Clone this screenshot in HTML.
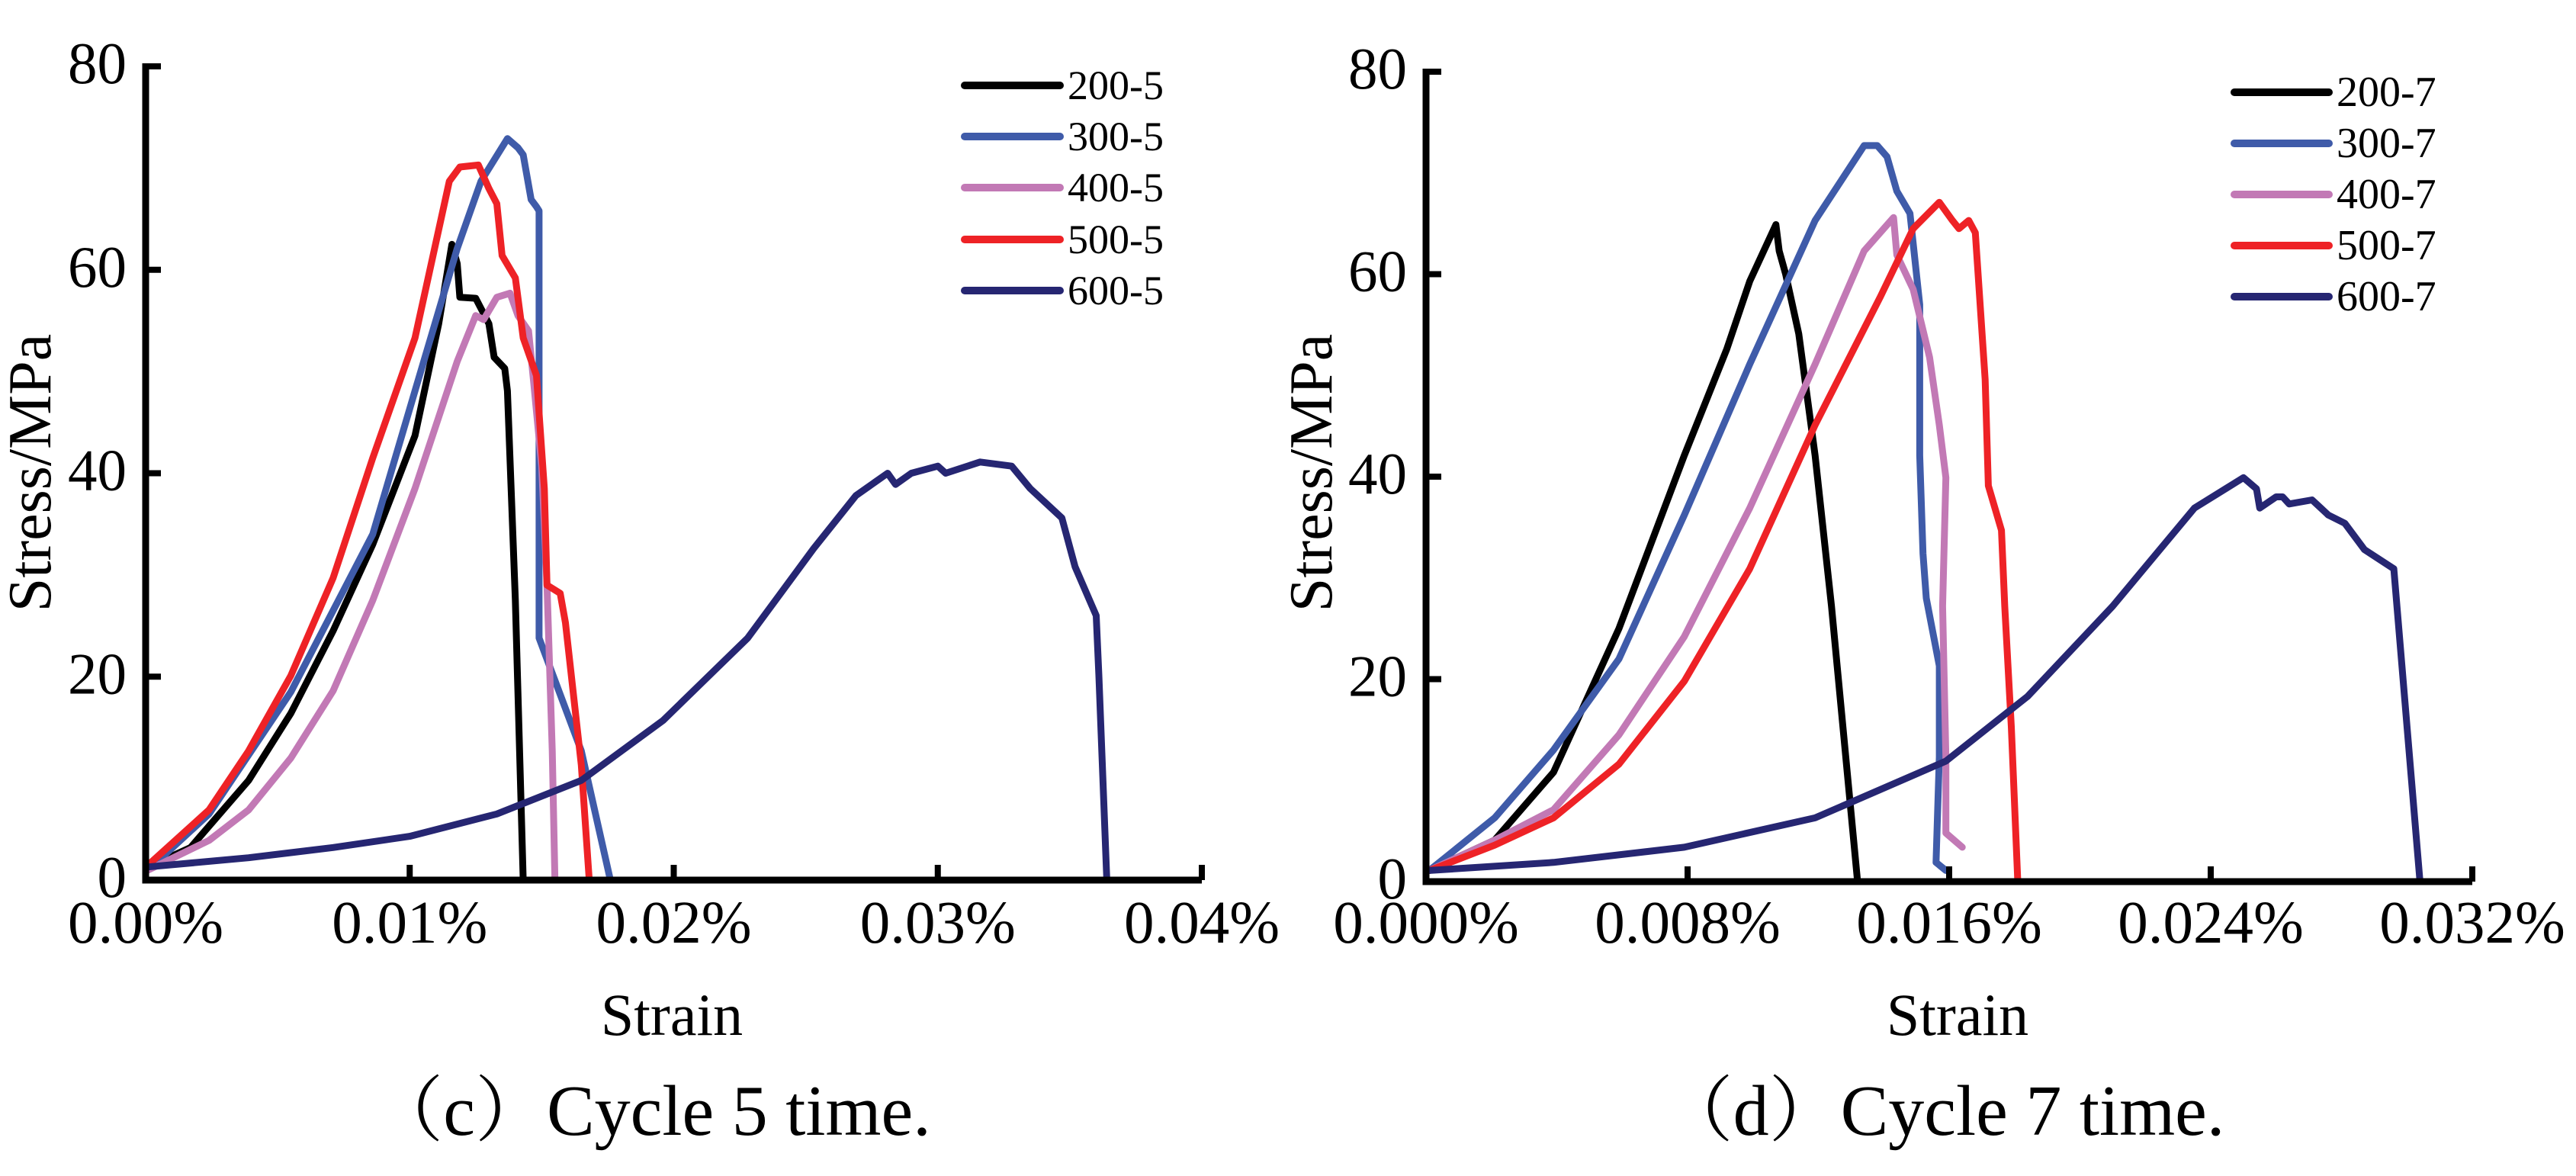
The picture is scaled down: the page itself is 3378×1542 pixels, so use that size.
<!DOCTYPE html>
<html><head><meta charset="utf-8">
<style>
html,body{margin:0;padding:0;background:#fff;}
svg{display:block;}
svg text{font-family:"Liberation Serif","Times New Roman",Times,"Nimbus Roman","Noto Serif CJK SC",serif;}
</style></head>
<body>
<svg id="root" width="3378" height="1542" viewBox="0 0 3378 1542" xmlns="http://www.w3.org/2000/svg"></svg>
<script>
// ---------- Data: panel (c) Cycle 5 ----------
const c5_labels = ["200-5","300-5","400-5","500-5","600-5"];
const c5_x_200 = [.0001,.0017,.0039,.0055,.0071,.0086,.0102,.0111,.0116,.0118,.0119,.0125,.0130,.0132,.0136,.0137,.0140,.0143];
const c5_y_200 = [1.3,3.2,9.8,16.4,24.5,33,43.7,54.7,62.5,60.6,57.3,57.2,54.7,51.4,50.3,48.1,27.5,0];
const c5_x_300 = [.0001,.0024,.0055,.0086,.0102,.0118,.0127,.0137,.0141,.0143,.0146,.0148,.0149,.0149,.0165,.0176];
const c5_y_300 = [1,6.5,18.5,34,48.1,62.1,68.7,72.9,72,71.3,66.9,66.2,65.8,23.8,12.7,0];
const c5_x_400 = [.0001,.0024,.0039,.0055,.0071,.0086,.0102,.0118,.0125,.0128,.0133,.0138,.0141,.0145,.0147,.0150,.0152,.0154,.0155];
const c5_y_400 = [1,3.9,6.9,12,18.6,27.5,38.5,51,55.5,55.1,57.3,57.7,55.5,54,48.8,40.7,29,12.7,0];
const c5_x_500 = [.0001,.0024,.0039,.0055,.0071,.0086,.0102,.0115,.0119,.0126,.0130,.0133,.0135,.0140,.0143,.0148,.0151,.0152,.0157,.0159,.0165,.0168];
const c5_y_500 = [1.5,6.9,12.7,20.1,29.7,41.5,53.3,68.7,70.1,70.3,68,66.5,61.4,59.2,53.3,49.6,38.5,29,28.2,25.3,11.3,0];
const c5_x_600 = [.0001,.0039,.0071,.0100,.0133,.0165,.0196,.0228,.0253,.0269,.0281,.0284,.0290,.0300,.0303,.0316,.0328,.0335,.0347,.0352,.0360,.0361,.0364];
const c5_y_600 = [1.3,2.2,3.2,4.3,6.5,9.8,15.7,23.8,32.6,37.8,40,38.9,40,40.7,40,41.1,40.7,38.5,35.6,30.8,26,20.1,0];
const c5_xticks = [0,0.01,0.02,0.03,0.04];
const c5_xtickLabels = ["0.00%","0.01%","0.02%","0.03%","0.04%"];

// ---------- Data: panel (d) Cycle 7 ----------
const c7_labels = ["200-7","300-7","400-7","500-7","600-7"];
const c7_x_200 = [.0001,.0021,.0039,.0059,.0079,.0092,.0099,.0107,.0108,.0110,.0114,.0119,.0124,.0132];
const c7_y_200 = [1.1,4.1,10.8,25,42.1,52.6,59.3,64.9,62.3,60,54.1,42.1,27.2,0];
const c7_x_300 = [.0001,.0021,.0039,.0059,.0079,.0099,.0119,.0134,.0138,.0141,.0144,.0148,.0151,.0151,.0152,.0153,.0157,.0157,.0156,.0159];
const c7_y_300 = [1.1,6.3,13,22,36.2,51.1,65.3,72.7,72.7,71.6,68.2,66,57,42.1,32.4,28,21.3,12.3,1.9,1.1];
const c7_x_400 = [.0001,.0021,.0039,.0059,.0079,.0099,.0119,.0134,.0143,.0144,.0149,.0154,.0157,.0159,.0158,.0159,.0159,.0164];
const c7_y_400 = [1.1,4.1,7.1,14.5,24.2,36.9,51.1,62.3,65.6,61.9,58.5,51.8,45.1,39.9,27.2,12.3,4.8,3.4];
const c7_x_500 = [.0001,.0021,.0039,.0059,.0079,.0099,.0119,.0139,.0149,.0157,.0161,.0163,.0166,.0168,.0171,.0172,.0176,.0177,.0179,.0181];
const c7_y_500 = [1.1,3.6,6.3,11.6,19.8,30.9,45.1,57.8,64.5,67.1,65.3,64.5,65.3,64.1,49.6,39.1,34.7,27.2,15.3,0];
const c7_x_600 = [.0001,.0039,.0079,.0119,.0159,.0184,.0210,.0235,.0250,.0254,.0255,.0260,.0262,.0264,.0271,.0276,.0281,.0287,.0296,.0304];
const c7_y_600 = [1.1,1.9,3.4,6.3,11.9,18.3,27.2,36.9,39.9,38.8,36.9,38,38,37.3,37.7,36.2,35.4,32.8,30.9,0];
const c7_xticks = [0,0.008,0.016,0.024,0.032];
const c7_xtickLabels = ["0.000%","0.008%","0.016%","0.024%","0.032%"];

const yticks = [0,20,40,60,80];
const yTickLabels = ["0","20","40","60","80"];
const colors = ["#000000","#3F5BA9","#C279B5","#EE2226","#262672"];
const FONT = '"Liberation Serif","Times New Roman",Times,serif';

const NS = "http://www.w3.org/2000/svg";
const root = document.getElementById('root');
function mk(tag, attrs, parent){
  const e = document.createElementNS(NS, tag);
  for (const k in attrs) e.setAttribute(k, attrs[k]);
  if (tag === 'text') e.setAttribute('font-family', FONT);
  (parent||root).appendChild(e);
  return e;
}

function panel(cfg){
  const g = mk('g', {});
  
  
  const sx = v => cfg.X0 + v / cfg.xmax * (cfg.X1 - cfg.X0);
  const sy = v => cfg.Y0 - v / 80 * (cfg.Y0 - cfg.Ytop);

  cfg.series.forEach((s, i) => {
    let d = '';
    s.x.forEach((xv, j) => { d += (j ? 'L' : 'M') + sx(xv).toFixed(1) + ',' + sy(s.y[j]).toFixed(1); });
    const p = mk('path', {d: d, fill: 'none', stroke: colors[i], 'stroke-width': 9, 'stroke-linejoin': 'round', 'stroke-linecap': 'round'}, g);
    
    
  });

  const ax = mk('path', {d: `M${cfg.X0},${cfg.Ytop-4}L${cfg.X0},${cfg.Y0}L${cfg.X1},${cfg.Y0}`, fill: 'none', stroke: '#000', 'stroke-width': 9}, g);
  
  

  yticks.forEach((t, i) => {
    const y = sy(t);
    const tk = mk('line', {x1: cfg.X0, x2: cfg.X0 + 20, y1: y, y2: y, stroke: '#000', 'stroke-width': 8}, g);
    
    
    const tx = mk('text', {x: cfg.X0 - 25, y: y + 22, 'font-size': 77, 'text-anchor': 'end'}, g);
    tx.textContent = yTickLabels[i];
    
    
  });
  cfg.xticks.forEach((t, i) => {
    const x = sx(t);
    if (i > 0) {
      const tk = mk('line', {x1: x, x2: x, y1: cfg.Y0, y2: cfg.Y0 - 20, stroke: '#000', 'stroke-width': 8}, g);
      
      
    }
    const tx = mk('text', {x: x, y: 1236, 'font-size': 79, 'text-anchor': 'middle'}, g);
    tx.textContent = cfg.xtickLabels[i];
    
    
  });

  const yt = mk('text', {x: 0, y: 0, 'font-size': 80, 'text-anchor': 'middle', transform: `translate(${cfg.ytx},620) rotate(-90)`}, g);
  yt.textContent = 'Stress/MPa';
  
  
  const xt = mk('text', {x: cfg.xtx, y: 1357, 'font-size': 78, 'text-anchor': 'middle'}, g);
  xt.textContent = 'Strain';
  
  
  const cap = mk('text', {x: cfg.capx, y: 1488, 'font-size': 94, 'text-anchor': 'middle'}, g);
  cap.textContent = cfg.caption;
  cap.setAttribute('font-family', '"Liberation Serif","Times New Roman","Noto Serif CJK SC",serif');
  
  

  cfg.labels.forEach((lab, i) => {
    const y = cfg.legY[i];
    const lg = mk('g', {}, g);
    
    
    mk('line', {x1: cfg.legX1, x2: cfg.legX2, y1: y, y2: y, stroke: colors[i], 'stroke-width': 10, 'stroke-linecap': 'round'}, lg);
    const t = mk('text', {x: cfg.legTx, y: y + 18, 'font-size': cfg.legFs}, lg);
    t.textContent = lab;
  });
}

panel({
  name: 'chart-cycle-5', X0: 191, X1: 1576, Y0: 1154, Ytop: 87, xmax: 0.04,
  xticks: c5_xticks, xtickLabels: c5_xtickLabels, labels: c5_labels,
  series: [{x:c5_x_200,y:c5_y_200},{x:c5_x_300,y:c5_y_300},{x:c5_x_400,y:c5_y_400},{x:c5_x_500,y:c5_y_500},{x:c5_x_600,y:c5_y_600}],
  ytx: 66, xtx: 881, capx: 854, caption: '（c）Cycle 5 time.',
  legY: [112,179,246,314,381], legX1: 1265, legX2: 1390, legTx: 1400, legFs: 54
});
panel({
  name: 'chart-cycle-7', X0: 1870, X1: 3242, Y0: 1156, Ytop: 94, xmax: 0.032,
  xticks: c7_xticks, xtickLabels: c7_xtickLabels, labels: c7_labels,
  series: [{x:c7_x_200,y:c7_y_200},{x:c7_x_300,y:c7_y_300},{x:c7_x_400,y:c7_y_400},{x:c7_x_500,y:c7_y_500},{x:c7_x_600,y:c7_y_600}],
  ytx: 1746, xtx: 2567, capx: 2548, caption: '（d）Cycle 7 time.',
  legY: [121,188,255,322,389], legX1: 2930, legX2: 3054, legTx: 3064, legFs: 56
});
</script>
</body></html>
